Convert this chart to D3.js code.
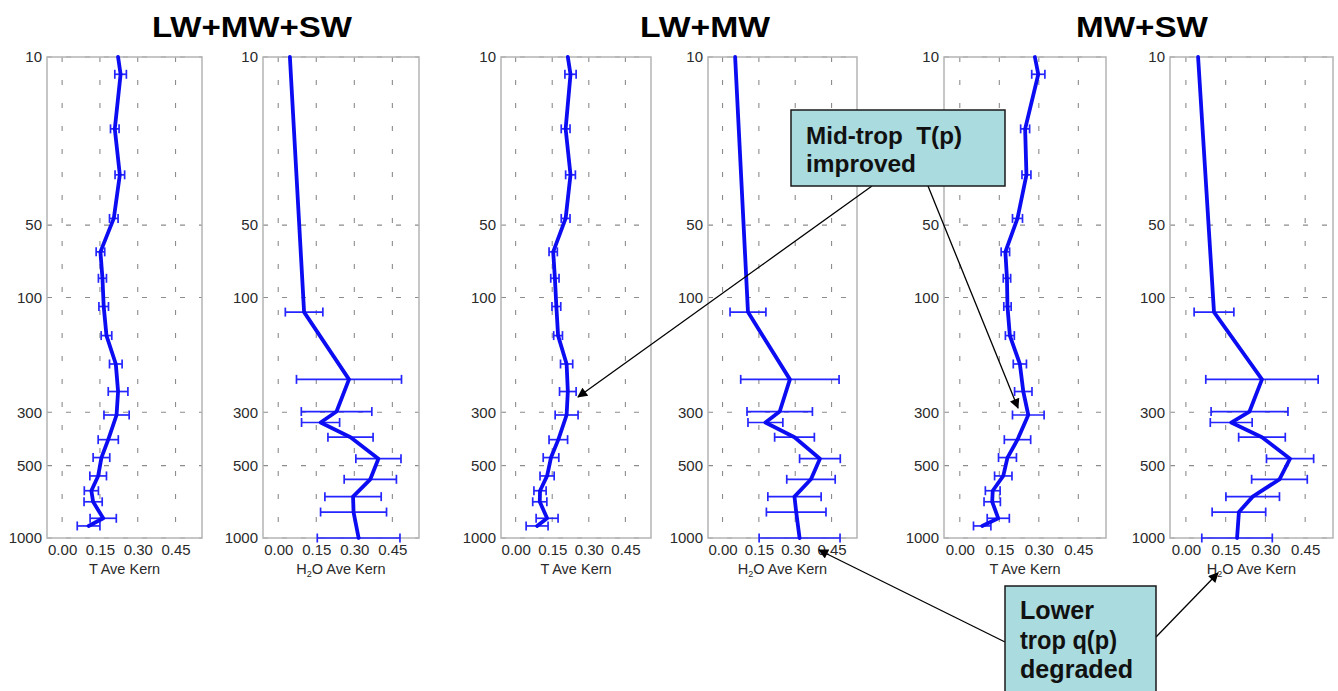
<!DOCTYPE html>
<html>
<head>
<meta charset="utf-8">
<script src="https://cdn.jsdelivr.net/npm/d3@7"></script>
<style>
  html, body { margin: 0; padding: 0; background: #fff; }
  svg { display: block; }
</style>
</head>
<body>
<svg id="chart" width="1338" height="691"></svg>
<script>
// ---- data -------------------------------------------------------------
// Pressure levels (hPa) of the temperature kernel rows (first entry = top of profile)
const tLevels = [10, 11.8, 19.9, 30.9, 46.9, 64.6, 83.2, 109, 144, 189, 246, 308, 390, 463, 552, 636, 707, 828, 891];
// Pressure levels (hPa) of the water-vapour kernel rows
const qLevels = [10, 115, 219, 298, 331, 381, 468, 570, 673, 780, 1000];

// Temperature averaging-kernel diagonal and spread, per channel set
const tKernLwMwSw = [0.222, 0.232, 0.209, 0.229, 0.205, 0.152, 0.160, 0.165, 0.176, 0.213, 0.222, 0.216, 0.183, 0.156, 0.143, 0.116, 0.123, 0.163, 0.105];
const tErrLwMwSw  = [null, 0.023, 0.017, 0.019, 0.017, 0.017, 0.016, 0.019, 0.021, 0.025, 0.039, 0.050, 0.040, 0.033, 0.033, 0.028, 0.036, 0.052, 0.045];
const tKernLwMw   = [0.214, 0.225, 0.205, 0.225, 0.205, 0.154, 0.161, 0.167, 0.174, 0.209, 0.214, 0.209, 0.175, 0.145, 0.129, 0.100, 0.099, 0.129, 0.088];
const tErrLwMw    = [null, 0.023, 0.018, 0.020, 0.018, 0.017, 0.017, 0.018, 0.018, 0.025, 0.034, 0.047, 0.038, 0.032, 0.029, 0.025, 0.029, 0.045, 0.045];
const tKernMwSw   = [0.285, 0.298, 0.248, 0.253, 0.219, 0.173, 0.179, 0.181, 0.190, 0.228, 0.241, 0.260, 0.219, 0.181, 0.165, 0.125, 0.123, 0.146, 0.085];
const tErrMwSw    = [null, 0.025, 0.017, 0.017, 0.019, 0.016, 0.014, 0.014, 0.017, 0.025, 0.033, 0.060, 0.050, 0.034, 0.033, 0.028, 0.031, 0.042, 0.033];

// Water-vapour averaging-kernel diagonal and spread, per channel set
const qKernLwMwSw = [0.046, 0.102, 0.279, 0.230, 0.167, 0.285, 0.395, 0.363, 0.295, 0.297, 0.317];
const qErrLwMwSw  = [null, 0.074, 0.207, 0.139, 0.075, 0.089, 0.089, 0.103, 0.111, 0.130, 0.163];
const qKernLwMw   = [0.052, 0.105, 0.278, 0.236, 0.177, 0.297, 0.402, 0.365, 0.297, 0.304, 0.318];
const qErrLwMw    = [null, 0.074, 0.203, 0.135, 0.072, 0.082, 0.084, 0.100, 0.110, 0.123, 0.167];
const qKernMwSw   = [0.046, 0.106, 0.287, 0.240, 0.171, 0.287, 0.393, 0.353, 0.252, 0.200, 0.193];
const qErrMwSw    = [null, 0.075, 0.212, 0.145, 0.079, 0.088, 0.089, 0.105, 0.101, 0.101, 0.133];

// Axis ticks and labels
const pressureTicks = [10, 50, 100, 300, 500, 1000];
const kernelTicks = [0.00, 0.15, 0.30, 0.45];
const groupTitles = ["LW+MW+SW", "LW+MW", "MW+SW"];
const noteMidTrop = ["Mid-trop  T(p)", "improved"];
const noteLowTrop = ["Lower", "trop q(p)", "degraded"];

// ---- layout -----------------------------------------------------------
const TOP = 57, BOTTOM = 538;
const FONT = "'Liberation Sans', Arial, sans-serif";
const BLUE = "#0c0cf2";

const panels = [
  { x0: 47,   x1: 202,  kind: "T", levels: tLevels, vals: tKernLwMwSw, errs: tErrLwMwSw },
  { x0: 263,  x1: 419,  kind: "Q", levels: qLevels, vals: qKernLwMwSw, errs: qErrLwMwSw },
  { x0: 501,  x1: 651,  kind: "T", levels: tLevels, vals: tKernLwMw,   errs: tErrLwMw },
  { x0: 708,  x1: 857,  kind: "Q", levels: qLevels, vals: qKernLwMw,   errs: qErrLwMw },
  { x0: 944,  x1: 1106, kind: "T", levels: tLevels, vals: tKernMwSw,   errs: tErrMwSw },
  { x0: 1170, x1: 1333, kind: "Q", levels: qLevels, vals: qKernMwSw,   errs: qErrMwSw }
];
const titleX = [252, 705, 1142];
const titleW = [200, 130, 132];

const svg = d3.select("#chart");
svg.append("rect").attr("width", 1338).attr("height", 691).attr("fill", "#fff");

const defs = svg.append("defs");
defs.append("marker")
  .attr("id", "head")
  .attr("viewBox", "0 0 10 10")
  .attr("refX", 9).attr("refY", 5)
  .attr("markerWidth", 12).attr("markerHeight", 10)
  .attr("markerUnits", "userSpaceOnUse")
  .attr("orient", "auto")
  .append("path").attr("d", "M0,0 L10,5 L0,10 Z").attr("fill", "#000");

const y = d3.scaleLog().domain([10, 1000]).range([TOP, BOTTOM]);

panels.forEach(p => {
  const x = d3.scaleLinear().domain([-0.06, 0.555]).range([p.x0, p.x1]);
  const g = svg.append("g");

  // grid
  g.selectAll(".vg").data(kernelTicks).join("line")
    .attr("x1", d => x(d)).attr("x2", d => x(d))
    .attr("y1", TOP).attr("y2", BOTTOM)
    .attr("stroke", "#8c8c8c").attr("stroke-width", 1.1)
    .attr("stroke-dasharray", "5,18");
  g.selectAll(".hg").data(pressureTicks).join("line")
    .attr("x1", p.x0).attr("x2", p.x1)
    .attr("y1", d => y(d)).attr("y2", d => y(d))
    .attr("stroke", "#8c8c8c").attr("stroke-width", 1.1)
    .attr("stroke-dasharray", "5,14");

  // frame
  g.append("rect")
    .attr("x", p.x0).attr("y", TOP)
    .attr("width", p.x1 - p.x0).attr("height", BOTTOM - TOP)
    .attr("fill", "none").attr("stroke", "#b4b4b4").attr("stroke-width", 1.5);

  // axes
  const ay = g.append("g").attr("transform", `translate(${p.x0},0)`)
    .call(d3.axisLeft(y).tickValues(pressureTicks).tickFormat(d3.format("d")).tickSize(0).tickPadding(5));
  const ax = g.append("g").attr("transform", `translate(0,${BOTTOM})`)
    .call(d3.axisBottom(x).tickValues(kernelTicks).tickFormat(d3.format(".2f")).tickSize(0).tickPadding(6));
  [ay, ax].forEach(a => {
    a.select(".domain").remove();
    a.selectAll("text").attr("font-size", 15).attr("font-family", FONT).attr("fill", "#2a2a2a");
  });

  // axis title
  const lab = g.append("text")
    .attr("x", (p.x0 + p.x1) / 2).attr("y", 574)
    .attr("text-anchor", "middle")
    .attr("font-family", FONT).attr("font-size", 14.5).attr("fill", "#2a2a2a");
  if (p.kind === "T") {
    lab.text("T Ave Kern");
  } else {
    lab.append("tspan").text("H");
    lab.append("tspan").attr("font-size", 9).attr("dy", 3).text("2");
    lab.append("tspan").attr("dy", -3).text("O Ave Kern");
  }

  // profile data
  const rows = p.levels.map((lev, i) => ({ p: lev, v: p.vals[i], e: p.errs[i] }));
  const bars = rows.filter(r => r.e !== null);

  const eb = g.append("g").attr("stroke", "#2525ff").attr("stroke-width", 1.7).attr("fill", "none");
  eb.selectAll(".h").data(bars).join("line")
    .attr("x1", d => x(d.v - d.e)).attr("x2", d => x(d.v + d.e))
    .attr("y1", d => y(d.p)).attr("y2", d => y(d.p));
  eb.selectAll(".cl").data(bars).join("line")
    .attr("x1", d => x(d.v - d.e)).attr("x2", d => x(d.v - d.e))
    .attr("y1", d => y(d.p) - 4.5).attr("y2", d => y(d.p) + 4.5);
  eb.selectAll(".cr").data(bars).join("line")
    .attr("x1", d => x(d.v + d.e)).attr("x2", d => x(d.v + d.e))
    .attr("y1", d => y(d.p) - 4.5).attr("y2", d => y(d.p) + 4.5);

  g.append("path").datum(rows)
    .attr("d", d3.line().x(d => x(d.v)).y(d => y(d.p)))
    .attr("fill", "none").attr("stroke", BLUE)
    .attr("stroke-width", 3.8).attr("stroke-linejoin", "round").attr("stroke-linecap", "round");
});

// group titles
svg.selectAll(".title").data(groupTitles).join("text")
  .attr("x", (d, i) => titleX[i]).attr("y", 37)
  .attr("text-anchor", "middle")
  .attr("font-family", FONT).attr("font-weight", "bold").attr("font-size", 29)
  .attr("textLength", (d, i) => titleW[i]).attr("lengthAdjust", "spacingAndGlyphs")
  .attr("fill", "#000")
  .text(d => d);

// ---- annotations --------------------------------------------------------
function arrow(x1, y1, x2, y2) {
  svg.append("line")
    .attr("x1", x1).attr("y1", y1).attr("x2", x2).attr("y2", y2)
    .attr("stroke", "#000").attr("stroke-width", 1.3)
    .attr("marker-end", "url(#head)");
}
function noteBox(bx, by, bw, bh, lines, widths, tx, baselines, fs) {
  svg.append("rect").attr("x", bx).attr("y", by).attr("width", bw).attr("height", bh)
    .attr("fill", "#a9dbdf").attr("stroke", "#1a1a1a").attr("stroke-width", 1.5);
  svg.selectAll(null).data(lines).join("text")
    .attr("x", tx).attr("y", (d, i) => baselines[i])
    .attr("font-family", FONT).attr("font-weight", "bold").attr("font-size", fs)
    .attr("textLength", (d, i) => widths[i]).attr("lengthAdjust", "spacingAndGlyphs")
    .attr("fill", "#111")
    .attr("xml:space", "preserve")
    .text(d => d);
}

arrow(872, 186, 578, 397);
arrow(928, 186, 1018, 408);
noteBox(791, 110, 214, 76, noteMidTrop, [156, 110], 806, [144, 172], 23.5);

arrow(1005, 642, 819, 550);
arrow(1156, 637, 1218, 573);
noteBox(1005, 586, 151, 120, noteLowTrop, [74, 97, 113], 1020, [619, 649, 678], 25);
</script>
</body>
</html>
